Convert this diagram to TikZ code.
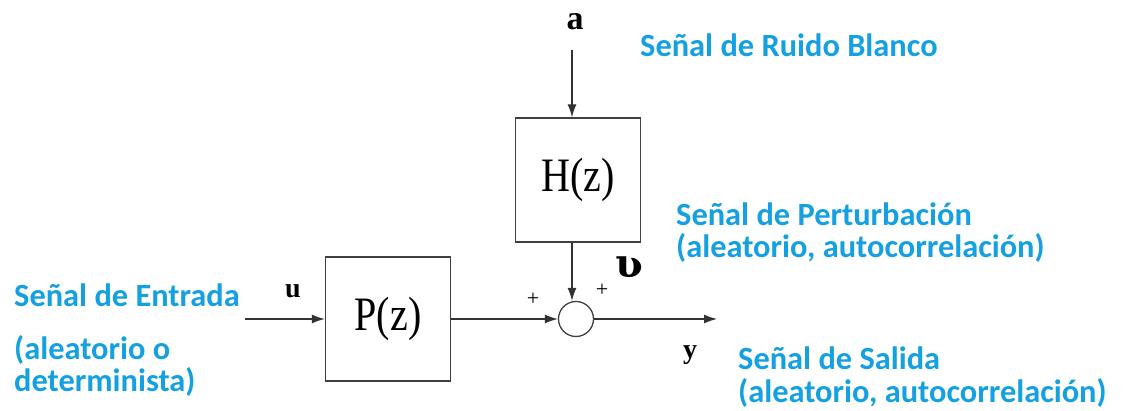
\documentclass[tikz,border=0pt]{standalone}
\usepackage{fontspec}
\setmainfont{Liberation Serif}
\newfontfamily\bluefont{Carlito}
\newfontfamily\ipafont{DejaVu Serif}
\definecolor{sigblue}{RGB}{20,160,225}
\usetikzlibrary{arrows.meta}
\tikzset{
  blk/.style={draw=black!75, line width=1.3pt, minimum width=125pt, minimum height=124pt, inner sep=0pt, font=\fontsize{40}{40}\selectfont},
  sumnode/.style={draw=black!75, line width=1.3pt, circle, minimum size=35pt, inner sep=0pt},
  sig/.style={line width=1.3pt, draw=black!80, -{Latex[length=13pt,width=9pt]}},
  lbl/.style={font=\fontsize{28}{28}\selectfont\bfseries, inner sep=0pt},
  blue/.style={text=sigblue, font=\fontsize{32.4}{32.4}\selectfont\bluefont\bfseries, inner sep=0pt, anchor=west},
  pm/.style={font=\fontsize{22}{22}\selectfont, inner sep=0pt}
}
\begin{document}
\begin{tikzpicture}[x=1pt,y=-1pt]
\useasboundingbox (0,0) rectangle (1123,411);
\node[blk] (H) at (578,180) {\scalebox{1}[1.2]{H(z)}};
\node[blk] (P) at (388,319) {\scalebox{1}[1.2]{P(z)}};
\node[sumnode] (S) at (576,319) {};
\coordinate (ain) at (572,50);
\coordinate (uin) at (245,319);
\coordinate (yout) at (717,319);
\node[lbl, font=\fontsize{34}{34}\selectfont\bfseries] (a) at (575,22) {a};
\node[lbl] (u) at (293,291) {u};
\node[lbl] (y) at (690,355) {y};
\node[lbl, font=\fontsize{40}{40}\selectfont\ipafont\bfseries] (v) at (629,267) {ʋ};
\node[pm] (p1) at (533,299) {+};
\node[pm] (p2) at (602,290) {+};
\draw[sig] (ain) -- (ain |- H.north);
\draw[sig] (H.south -| ain) -- (S.north -| ain);
\draw[sig] (uin) -- (P.west);
\draw[sig] (P.east) -- (S.west);
\draw[sig] (S.east) -- (yout);
\node[blue] (t1) at (640,45) {Señal de Ruido Blanco};
\node[blue] (t2) at (676,214) {Señal de Perturbación};
\node[blue] (t3) at (676,248) {(aleatorio, autocorrelación)};
\node[blue] (t4) at (14,295) {Señal de Entrada};
\node[blue] (t5) at (14,350) {(aleatorio o};
\node[blue] (t6) at (14,382) {determinista)};
\node[blue] (t7) at (738,358) {Señal de Salida};
\node[blue] (t8) at (738,393) {(aleatorio, autocorrelación)};
\end{tikzpicture}
\end{document}
